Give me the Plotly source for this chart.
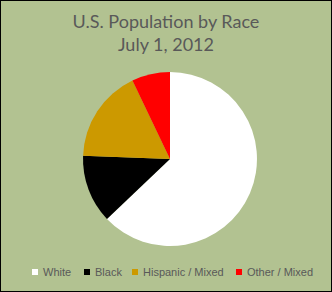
import plotly.graph_objects as go

categories = ["White", "Black", "Hispanic / Mixed", "Other / Mixed"]
shares = [62.9, 12.7, 17.3, 7.1]
colors = ["#FFFFFF", "#000000", "#CC9900", "#FF0000"]

# legend layout (pixels in the 332x292 figure)
W, H = 332, 292
legend_sq_x = [32, 84, 132, 236]
legend_y = 272

fig = go.Figure(go.Pie(
    labels=categories, values=shares, sort=False, direction="clockwise",
    rotation=0, marker=dict(colors=colors, line=dict(width=0)),
    textinfo="none", hoverinfo="label+percent",
    domain=dict(x=[0.25, 0.774], y=[0.1575, 0.7534]),
))

shapes = [dict(type="rect", xref="paper", yref="paper", x0=0, x1=1, y0=0, y1=1,
               line=dict(color="#000000", width=2))]
annotations = []
for cat, col, sx in zip(categories, colors, legend_sq_x):
    shapes.append(dict(type="rect", xref="paper", yref="paper",
                       x0=sx / W, x1=(sx + 6) / W,
                       y0=1 - (legend_y + 3) / H, y1=1 - (legend_y - 3) / H,
                       fillcolor=col, line=dict(width=0)))
    annotations.append(dict(text=cat, xref="paper", yref="paper",
                            x=(sx + 9) / W, y=1 - legend_y / H,
                            xanchor="left", yanchor="middle", showarrow=False,
                            font=dict(family="Liberation Sans", size=11, color="#595959")))

fig.update_layout(
    width=W, height=H, margin=dict(l=0, r=0, t=0, b=0),
    paper_bgcolor="#B2C291", plot_bgcolor="#B2C291",
    title=dict(text="U.S. Population by Race<br>July 1, 2012", x=0.5, xanchor="center",
               y=0.905, yanchor="top",
               font=dict(family="Lato", size=18, color="#595959")),
    showlegend=False,
    shapes=shapes,
    annotations=annotations,
)

fig.write_html("out.html")
